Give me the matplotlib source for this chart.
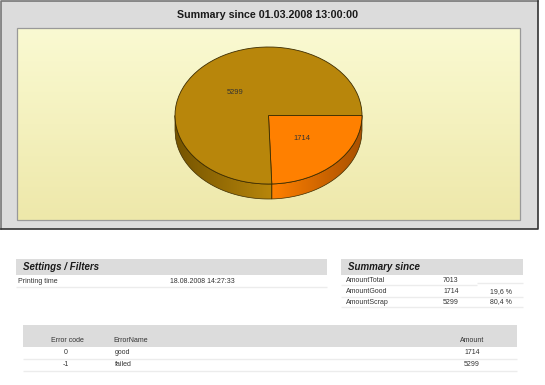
import numpy as np
import matplotlib
matplotlib.use("Agg")
import matplotlib.pyplot as plt
from matplotlib.patches import Rectangle, Polygon

plt.rcParams['font.family'] = ['Liberation Sans', 'DejaVu Sans']

# datos
errorCodes = ['0', '-1']
errorNames = ['good', 'failed']
amounts = [1714, 5299]
pieColors = ['#ff8000', '#b8860b']
summaryNames = ['AmountTotal', 'AmountGood', 'AmountScrap']
summaryValues = ['7013', '1714', '5299']
summaryPercents = ['', '19,6 %', '80,4 %']
chartTitle = 'Summary since 01.03.2008 13:00:00'
printingTime = '18.08.2008 14:27:33'

W, H = 545, 385
fig = plt.figure(figsize=(W / 100, H / 100), dpi=100, facecolor='white')

# fondo en pixeles
bg = fig.add_axes([0, 0, 1, 1])
bg.set_axis_off()

def caja(x0, y0, x1, y1, color, edge='none', lw=0):
    bg.add_patch(Rectangle((x0, y0), x1 - x0, y1 - y0, facecolor=color, edgecolor=edge, linewidth=lw))

def linea(x0, x1, y, color='#ececec', lw=1.0):
    bg.plot([x0, x1], [y, y], color=color, linewidth=lw, solid_capstyle='butt')

def texto(x, y, s, size=5.0, ha='left', **kw):
    bg.text(x, y, s, fontsize=size, ha=ha, va='center', color=kw.pop('color', '#333333'), **kw)

# marco del grafico
caja(1, 1, 538, 229, '#dcdcdc')
bg.plot([1, 1, 538], [229, 1, 1], color='#777777', linewidth=1.2)
bg.plot([538, 538, 1], [1, 229, 229], color='#333333', linewidth=1.2)

top = np.array(matplotlib.colors.to_rgb('#fafad2'))
bottom = np.array(matplotlib.colors.to_rgb('#eee8aa'))
grad = np.linspace(0, 1, 100)[:, None, None] * (bottom - top) + top
bg.imshow(grad, extent=[17, 520, 220, 28], aspect='auto', zorder=1)
bg.add_patch(Rectangle((17, 28), 503, 192, fill=False, edgecolor='#999999', linewidth=0.9, zorder=2))
bg.set_xlim(0, W)
bg.set_ylim(H, 0)

bg.text(268, 15, chartTitle, fontsize=7.7, fontweight='bold', ha='center', va='center', color='#1a1a1a')

# torta, achatada a la elipse del dibujo
cx, cy, rx, ry, prof = 268.5, 115.5, 93.5, 68.5, 15
ax = fig.add_axes([(cx - 1.25 * rx) / W, 1 - (cy + 1.25 * ry) / H, 2.5 * rx / W, 2.5 * ry / H], zorder=3)
total = sum(amounts)
wedges, _, autotexts = ax.pie(amounts, colors=pieColors, startangle=0, counterclock=False, radius=1,
                              autopct=lambda p: '%d' % round(p * total / 100), pctdistance=0.49,
                              wedgeprops=dict(edgecolor='#3d2c00', linewidth=0.6, zorder=5),
                              textprops=dict(fontsize=5.4, color='#333333'))
for t in autotexts:
    t.set_zorder(6)
ax.set_aspect('auto')
ax.patch.set_visible(False)

# pared lateral con degrade
d = prof / ry
corte = np.cos(np.deg2rad(amounts[0] / total * 360))

def pared(x0, x1, c0, c1):
    xs = np.linspace(x0, x1, 150)
    ys = -np.sqrt(np.clip(1 - xs ** 2, 0, 1))
    pts = np.r_[np.c_[xs, ys], np.c_[xs[::-1], ys[::-1] - d]]
    c0 = np.array(matplotlib.colors.to_rgb(c0))
    c1 = np.array(matplotlib.colors.to_rgb(c1))
    g = (np.linspace(0, 1, 150)[:, None] * (c1 - c0) + c0)[None, :, :]
    im = ax.imshow(g, extent=[x0, x1, -1 - d, 0], aspect='auto', zorder=2)
    poly = Polygon(pts, closed=True, facecolor='none', edgecolor='#3d2c00', linewidth=0.5, zorder=3)
    ax.add_patch(poly)
    im.set_clip_path(poly)

pared(-1, corte, '#755400', '#b8860b')
pared(corte, 1, '#ff8000', '#a85000')
ax.set_xlim(-1.25, 1.25)
ax.set_ylim(-1.25, 1.25)
ax.set_aspect('auto')

# Settings / Filters
caja(16, 259, 327, 275, '#dcdcdc')
texto(23, 267, 'Settings / Filters', size=7, fontweight='bold', fontstyle='italic', color='#1a1a1a')
texto(18, 281.5, 'Printing time')
texto(170, 281.5, printingTime)
linea(16, 327, 286.5)

# Summary since
caja(341, 259, 523, 275, '#dcdcdc')
texto(348, 267, 'Summary since', size=7, fontweight='bold', fontstyle='italic', color='#1a1a1a')
filas = [280, 291.5, 302]
for y, n, v, p in zip(filas, summaryNames, summaryValues, summaryPercents):
    texto(346, y, n)
    texto(443, y, v)
    if p:
        texto(490, y, p)
linea(341, 477, 284.5)
linea(477, 523, 283)
linea(341, 523, 296.5)
linea(341, 523, 307)

# tabla de errores
caja(23, 325, 517, 347, '#dcdcdc')
texto(67, 340, 'Error code', ha='center')
texto(113, 340, 'ErrorName')
texto(472, 340, 'Amount', ha='center')
for y, c, n, a in zip([353, 365], errorCodes, errorNames, amounts):
    texto(66, y, c, ha='center')
    texto(115, y, n)
    texto(472, y, str(a), ha='center')
linea(23, 517, 359)
linea(23, 517, 371)

fig.savefig('out.png', dpi=100, facecolor='white')
